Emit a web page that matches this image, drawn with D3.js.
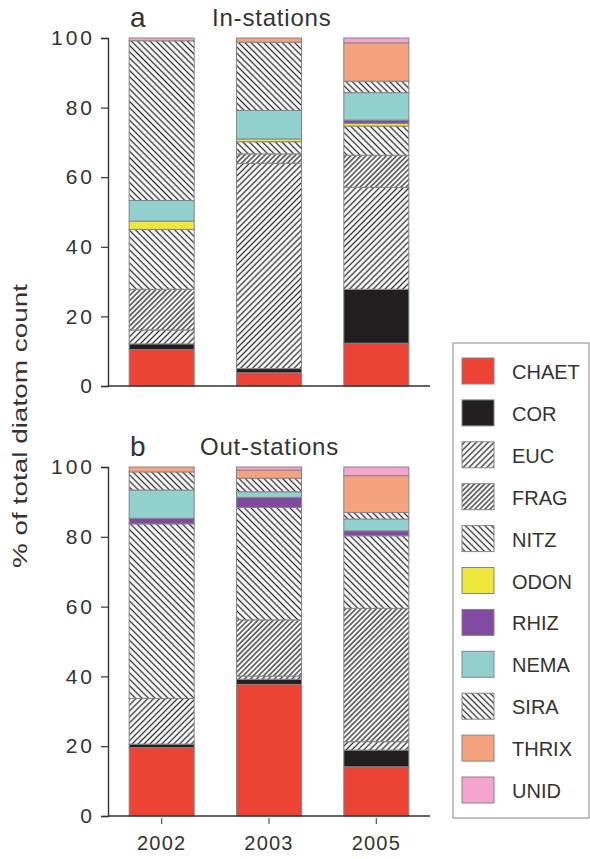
<!DOCTYPE html>
<html>
<head>
<meta charset="utf-8">
<script src="https://cdn.jsdelivr.net/npm/d3@7"></script>
<style>
  body { margin: 0; background: #fff; }
  svg text { font-family: "Liberation Sans", Arial, Helvetica, sans-serif; fill: #333; }
</style>
</head>
<body>
<svg id="chart" width="590" height="859"></svg>
<script>
// --- data (percent of total diatom count) ---
var years = ['2002', '2003', '2005'];
var taxa = ['CHAET', 'COR', 'EUC', 'FRAG', 'NITZ', 'ODON', 'RHIZ', 'NEMA', 'SIRA', 'THRIX', 'UNID'];
var yTicks = [0, 20, 40, 60, 80, 100];

// values follow the taxa order
var in2002 = [10.5, 1.6, 4.0, 11.7, 17.2, 2.4, 0, 5.9, 45.9, 0, 0.8];
var in2003 = [3.8, 1.2, 59.0, 2.7, 3.5, 0.8, 0, 8.2, 19.6, 1.2, 0];
var in2005 = [12.3, 15.5, 29.3, 9.2, 8.4, 0.8, 0.9, 7.9, 3.3, 11.0, 1.4];
var out2002 = [19.6, 1.0, 13.1, 0, 50.0, 0, 1.6, 8.1, 5.2, 1.4, 0];
var out2003 = [37.7, 1.5, 0.9, 16.1, 32.2, 0, 2.9, 1.6, 3.9, 2.3, 0.9];
var out2005 = [14.1, 4.8, 2.4, 38.2, 20.8, 0, 1.4, 3.4, 1.9, 10.5, 2.5];

var fills = {
  CHAET: '#ec4335', COR: '#231f20', ODON: '#eee83c', RHIZ: '#7f4a9f',
  NEMA: '#92cfcf', THRIX: '#f7a27f', UNID: '#f5a5cd'
};
// hatched taxa: angle of lines and spacing
var hatches = {
  EUC: { angle: 45, gap: 4.2 },
  FRAG: { angle: 45, gap: 3.6 },
  NITZ: { angle: -45, gap: 4.6 },
  SIRA: { angle: -45, gap: 4.4 }
};

var svg = d3.select('#chart');
var defs = svg.append('defs');

Object.keys(hatches).forEach(function(k) {
  var h = hatches[k];
  var p = defs.append('pattern')
    .attr('id', 'hatch-' + k)
    .attr('patternUnits', 'userSpaceOnUse')
    .attr('width', h.gap).attr('height', 10)
    .attr('patternTransform', 'rotate(' + h.angle + ')');
  p.append('rect').attr('width', h.gap).attr('height', 10).attr('fill', '#fff');
  p.append('line')
    .attr('x1', h.gap / 2).attr('x2', h.gap / 2)
    .attr('y1', 0).attr('y2', 10)
    .attr('stroke', '#2a2a2a').attr('stroke-width', 1.3);
});

function fillFor(k) {
  return hatches[k] ? 'url(#hatch-' + k + ')' : fills[k];
}

var x = d3.scaleBand().domain(years)
  .range([108, 430])
  .paddingInner(0.394).paddingOuter(0.197);

function rowsFrom(arrays) {
  return years.map(function(yr, i) {
    var row = { year: yr };
    taxa.forEach(function(t, j) { row[t] = arrays[i][j]; });
    return row;
  });
}

var stack = d3.stack().keys(taxa);

function drawPanel(opts) {
  var y = d3.scaleLinear().domain([0, 100]).range([opts.bottom, opts.top]);
  var g = svg.append('g');
  var series = stack(rowsFrom(opts.data));

  g.selectAll('g.layer')
    .data(series)
    .enter().append('g').attr('class', 'layer')
    .attr('fill', function(s) { return fillFor(s.key); })
    .selectAll('rect')
    .data(function(s) { return s.filter(function(d) { return d[1] - d[0] > 0; }); })
    .enter().append('rect')
    .attr('x', function(d) { return x(d.data.year); })
    .attr('width', x.bandwidth())
    .attr('y', function(d) { return y(d[1]); })
    .attr('height', function(d) { return y(d[0]) - y(d[1]); })
    .attr('stroke', '#858585')
    .attr('stroke-width', 1);

  // y axis
  var yAxis = g.append('g')
    .attr('transform', 'translate(108,0)')
    .call(d3.axisLeft(y).tickValues(yTicks).tickSize(7).tickPadding(6));
  yAxis.select('.domain').attr('stroke', '#333').attr('stroke-width', 1.4);
  yAxis.selectAll('.tick line').attr('stroke', '#333').attr('stroke-width', 1.2);
  yAxis.selectAll('.tick text')
    .attr('font-size', 21).attr('letter-spacing', 3).attr('fill', '#333')
    .style('font-family', '"Liberation Sans", Arial, sans-serif');

  // baseline
  g.append('line')
    .attr('x1', 108).attr('x2', 430)
    .attr('y1', y(0)).attr('y2', y(0))
    .attr('stroke', '#333').attr('stroke-width', 1.4);

  g.append('text').attr('x', 130).attr('y', opts.top - 11)
    .attr('font-size', 28).text(opts.letter);
  g.append('text').attr('x', opts.titleX).attr('y', opts.top - 12)
    .attr('font-size', 24).attr('letter-spacing', 0.8).text(opts.title);

  return y;
}

drawPanel({ data: [in2002, in2003, in2005], top: 38, bottom: 386, letter: 'a', title: 'In-stations', titleX: 212 });
var yb = drawPanel({ data: [out2002, out2003, out2005], top: 467, bottom: 816, letter: 'b', title: 'Out-stations', titleX: 200 });

// x axis on the lower panel, ticks sit just below the baseline
var xAxis = svg.append('g')
  .attr('transform', 'translate(0,' + (yb(0) + 2) + ')')
  .call(d3.axisBottom(x).tickSize(6).tickPadding(12));
xAxis.select('.domain').remove();
xAxis.selectAll('.tick line').attr('stroke', '#555').attr('stroke-width', 1.2);
xAxis.selectAll('.tick text')
  .attr('font-size', 20).attr('letter-spacing', 1.2).attr('fill', '#333')
  .style('font-family', '"Liberation Sans", Arial, sans-serif');

// y title
svg.append('text')
  .attr('transform', 'translate(27,426) rotate(-90)')
  .attr('text-anchor', 'middle')
  .attr('font-size', 21)
  .attr('textLength', 284)
  .attr('lengthAdjust', 'spacingAndGlyphs')
  .text('% of total diatom count');

// legend
var legend = svg.append('g').attr('transform', 'translate(453,343)');
legend.append('rect')
  .attr('width', 136).attr('height', 475)
  .attr('fill', '#fff').attr('stroke', '#9a9a9a').attr('stroke-width', 1.2);

var item = legend.selectAll('g.item')
  .data(taxa)
  .enter().append('g').attr('class', 'item')
  .attr('transform', function(d, i) { return 'translate(9,' + (15 + i * 41.9) + ')'; });

item.append('rect')
  .attr('width', 32).attr('height', 26)
  .attr('fill', fillFor)
  .attr('stroke', '#858585').attr('stroke-width', 1);

item.append('text')
  .attr('x', 50).attr('y', 21)
  .attr('font-size', 20)
  .text(function(d) { return d; });
</script>
</body>
</html>
